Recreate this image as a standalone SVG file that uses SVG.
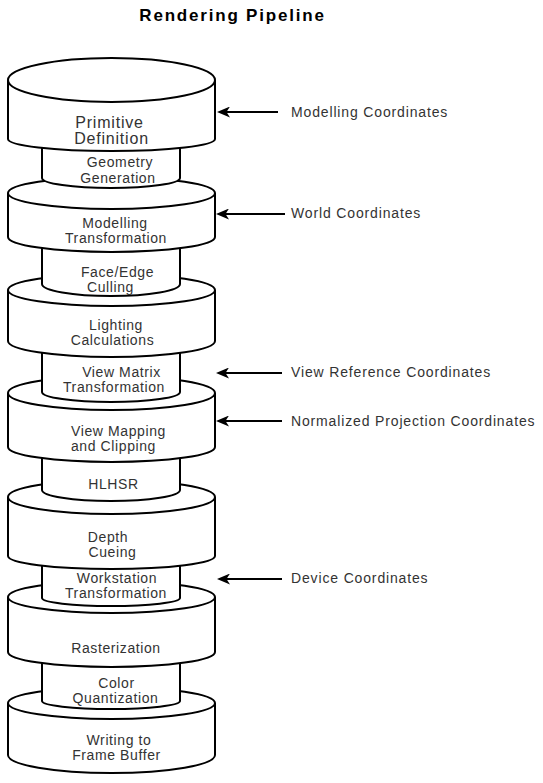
<svg xmlns="http://www.w3.org/2000/svg" width="543" height="783" viewBox="0 0 543 783">
<style>
.cyl{fill:#fff;stroke:#000;stroke-width:2;stroke-linejoin:round}
.edge{fill:none;stroke:#000;stroke-width:2}
.t{font-family:"Liberation Sans",Arial,sans-serif;font-size:14px;fill:#333;text-anchor:middle;letter-spacing:0.6px}
.tb{font-size:16px;letter-spacing:0.8px}
.lab{font-family:"Liberation Sans",Arial,sans-serif;font-size:14px;fill:#333;letter-spacing:0.85px}
.title{font-family:"Liberation Sans",Arial,sans-serif;font-size:17px;font-weight:bold;fill:#000;text-anchor:middle;letter-spacing:1.8px}
.arr{fill:none;stroke:#000;stroke-width:2.2}
</style>
<defs>
<marker id="ah" markerUnits="userSpaceOnUse" viewBox="0 0 13 11" refX="9" refY="5.5" markerWidth="13" markerHeight="11" orient="auto">
<path d="M0,0 L13,5.5 L0,11 L3.5,5.5 Z" fill="#000"/>
</marker>
</defs>
<rect width="543" height="783" fill="#fff"/>
<text class="title" x="232.5" y="21">Rendering Pipeline</text>

<!-- drawn bottom to top -->
<g id="writing-frame-buffer">
<path class="cyl" d="M8,703 L8,755 A103.5,18 0 0 0 215,755 L215,703 A103.5,16 0 0 0 8,703 Z"/>
<path class="edge" d="M8,703 A103.5,16 0 0 0 215,703"/>
<text class="t" x="119" y="745">Writing to</text>
<text class="t" x="116.5" y="760">Frame Buffer</text>
</g>
<g id="color-quantization">
<path class="cyl" d="M42,652 L42,701 A69,8 0 0 0 180,701 L180,652 Z"/>
<text class="t" x="116.5" y="688">Color</text>
<text class="t" x="115.5" y="703">Quantization</text>
</g>
<g id="rasterization">
<path class="cyl" d="M8,597 L8,652 A103.5,15 0 0 0 215,652 L215,597 A103.5,16 0 0 0 8,597 Z"/>
<path class="edge" d="M8,597 A103.5,16 0 0 0 215,597"/>
<text class="t" x="116" y="653">Rasterization</text>
</g>
<g id="workstation-transformation">
<path class="cyl" d="M42,556 L42,598 A69,8 0 0 0 180,598 L180,556 Z"/>
<text class="t" x="117" y="583">Workstation</text>
<text class="t" x="116" y="598">Transformation</text>
</g>
<g id="depth-cueing">
<path class="cyl" d="M8,497 L8,556 A103.5,13 0 0 0 215,556 L215,497 A103.5,17 0 0 0 8,497 Z"/>
<path class="edge" d="M8,497 A103.5,17 0 0 0 215,497"/>
<text class="t" x="108" y="542">Depth</text>
<text class="t" x="112.5" y="557">Cueing</text>
</g>
<g id="hlhsr">
<path class="cyl" d="M42,447 L42,490 A69,11 0 0 0 180,490 L180,447 Z"/>
<text class="t" x="113.5" y="489">HLHSR</text>
</g>
<g id="view-mapping-clipping">
<path class="cyl" d="M8,393 L8,447 A103.5,15 0 0 0 215,447 L215,393 A103.5,17 0 0 0 8,393 Z"/>
<path class="edge" d="M8,393 A103.5,17 0 0 0 215,393"/>
<text class="t" x="118.5" y="436">View Mapping</text>
<text class="t" x="113.5" y="451">and Clipping</text>
</g>
<g id="view-matrix-transformation">
<path class="cyl" d="M42,341 L42,392 A69,10 0 0 0 180,392 L180,341 Z"/>
<text class="t" x="121.5" y="377">View Matrix</text>
<text class="t" x="114" y="392">Transformation</text>
</g>
<g id="lighting-calculations">
<path class="cyl" d="M8,290 L8,341 A103.5,16 0 0 0 215,341 L215,290 A103.5,16 0 0 0 8,290 Z"/>
<path class="edge" d="M8,290 A103.5,16 0 0 0 215,290"/>
<text class="t" x="116" y="330">Lighting</text>
<text class="t" x="112.5" y="345">Calculations</text>
</g>
<g id="face-edge-culling">
<path class="cyl" d="M42,237 L42,284 A69,12 0 0 0 180,284 L180,237 Z"/>
<text class="t" x="117.5" y="277">Face/Edge</text>
<text class="t" x="110.5" y="292">Culling</text>
</g>
<g id="modelling-transformation">
<path class="cyl" d="M8,193 L8,237 A103.5,15 0 0 0 215,237 L215,193 A103.5,16 0 0 0 8,193 Z"/>
<path class="edge" d="M8,193 A103.5,16 0 0 0 215,193"/>
<text class="t" x="115" y="228">Modelling</text>
<text class="t" x="116" y="243">Transformation</text>
</g>
<g id="geometry-generation">
<path class="cyl" d="M42,139 L42,178 A69,10 0 0 0 180,178 L180,139 Z"/>
<text class="t" x="120" y="167">Geometry</text>
<text class="t" x="118" y="183">Generation</text>
</g>
<g id="primitive-definition">
<path class="cyl" d="M8,80 L8,139 A103.5,12 0 0 0 215,139 L215,80 A103.5,22 0 0 0 8,80 Z"/>
<path class="edge" d="M8,80 A103.5,22 0 0 0 215,80"/>
<text class="t tb" x="109.5" y="128">Primitive</text>
<text class="t tb" x="111.5" y="144">Definition</text>
</g>

<g id="connectors">
<path class="arr" d="M278,112 L221,112" marker-end="url(#ah)"/>
<path class="arr" d="M285,214 L220,214" marker-end="url(#ah)"/>
<path class="arr" d="M282,373 L220,373" marker-end="url(#ah)"/>
<path class="arr" d="M282,421 L220,421" marker-end="url(#ah)"/>
<path class="arr" d="M282,579 L221,579" marker-end="url(#ah)"/>
</g>

<g id="labels">
<text class="lab" x="291" y="117">Modelling Coordinates</text>
<text class="lab" x="291" y="218">World Coordinates</text>
<text class="lab" x="291" y="377">View Reference Coordinates</text>
<text class="lab" x="291" y="426">Normalized Projection Coordinates</text>
<text class="lab" x="291" y="583">Device Coordinates</text>
</g>
</svg>
